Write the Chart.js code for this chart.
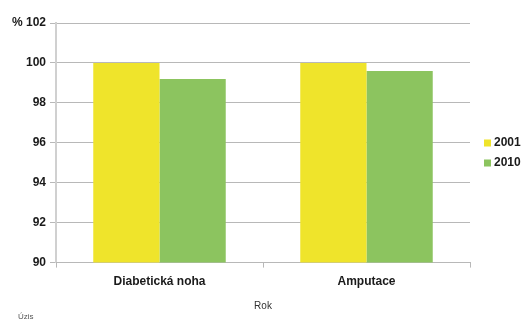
<!DOCTYPE html>
<html>
<head>
<meta charset="utf-8">
<script src="https://cdn.jsdelivr.net/npm/chart.js@4.4.1/dist/chart.umd.min.js"></script>
<style>
  html, body { margin: 0; padding: 0; background: #fff; }
  #wrap { width: 527px; height: 322px; position: relative; }
</style>
</head>
<body>
<div id="wrap"><canvas id="chart"></canvas></div>
<script>
const categories = ['Diabetická noha', 'Amputace'];
const years = ['2001', '2010'];
const values2001 = [100, 100];
const values2010 = [99.2, 99.6];
const yTicks = [90, 92, 94, 96, 98, 100, 102];

const gridColor = '#b8b8b8';
const textColor = '#1a1a1a';
const fontFamily = '"Liberation Sans Narrow", "Liberation Sans", Arial, sans-serif';
const boldFont = { family: fontFamily, size: 12, weight: 'bold' };

// legend at the right plus the source note in the bottom-left corner
const extras = {
    id: 'extras',
    afterDraw(chart) {
        const ctx = chart.ctx;
        ctx.save();
        ctx.textBaseline = 'middle';
        ctx.font = 'bold 12px ' + fontFamily;
        chart.data.datasets.forEach((ds, i) => {
            const y = 143 + i * 20;
            ctx.fillStyle = ds.backgroundColor;
            ctx.fillRect(484, y - 3.5, 7, 7);
            ctx.fillStyle = textColor;
            ctx.fillText(ds.label, 494, y);
        });
        ctx.font = '8px ' + fontFamily;
        ctx.fillStyle = '#555';
        ctx.fillText('Úzis', 18, 317);
        ctx.restore();
    }
};

new Chart(document.getElementById('chart'), {
    type: 'bar',
    data: {
        labels: categories,
        datasets: [{
            label: years[0],
            data: values2001,
            backgroundColor: '#efe42b'
        }, {
            label: years[1],
            data: values2010,
            backgroundColor: '#8cc45f'
        }]
    },
    options: {
        responsive: true,
        maintainAspectRatio: false,
        animation: false,
        layout: { padding: { top: 23, right: 57, bottom: 6, left: 0 } },
        datasets: {
            bar: { categoryPercentage: 0.64, barPercentage: 1.0 }
        },
        plugins: {
            legend: { display: false },
            tooltip: { enabled: false }
        },
        scales: {
            y: {
                min: yTicks[0],
                max: yTicks[yTicks.length - 1],
                afterBuildTicks: (axis) => { axis.ticks = yTicks.map(v => ({ value: v })); },
                afterFit: (axis) => { axis.width = 56; },
                grid: { color: gridColor, tickLength: 6 },
                border: { color: '#d0d0d0', width: 2 },
                ticks: {
                    color: textColor,
                    padding: 4,
                    font: boldFont,
                    callback: (v) => v === 102 ? '% 102' : v
                }
            },
            x: {
                grid: { offset: true, drawOnChartArea: false, tickLength: 5, color: gridColor },
                border: { color: gridColor },
                ticks: {
                    color: textColor,
                    padding: 7,
                    font: boldFont
                },
                title: {
                    display: true,
                    text: 'Rok',
                    color: '#333',
                    padding: { top: 4 },
                    font: { family: fontFamily, size: 10 }
                }
            }
        }
    },
    plugins: [extras]
});
</script>
</body>
</html>
